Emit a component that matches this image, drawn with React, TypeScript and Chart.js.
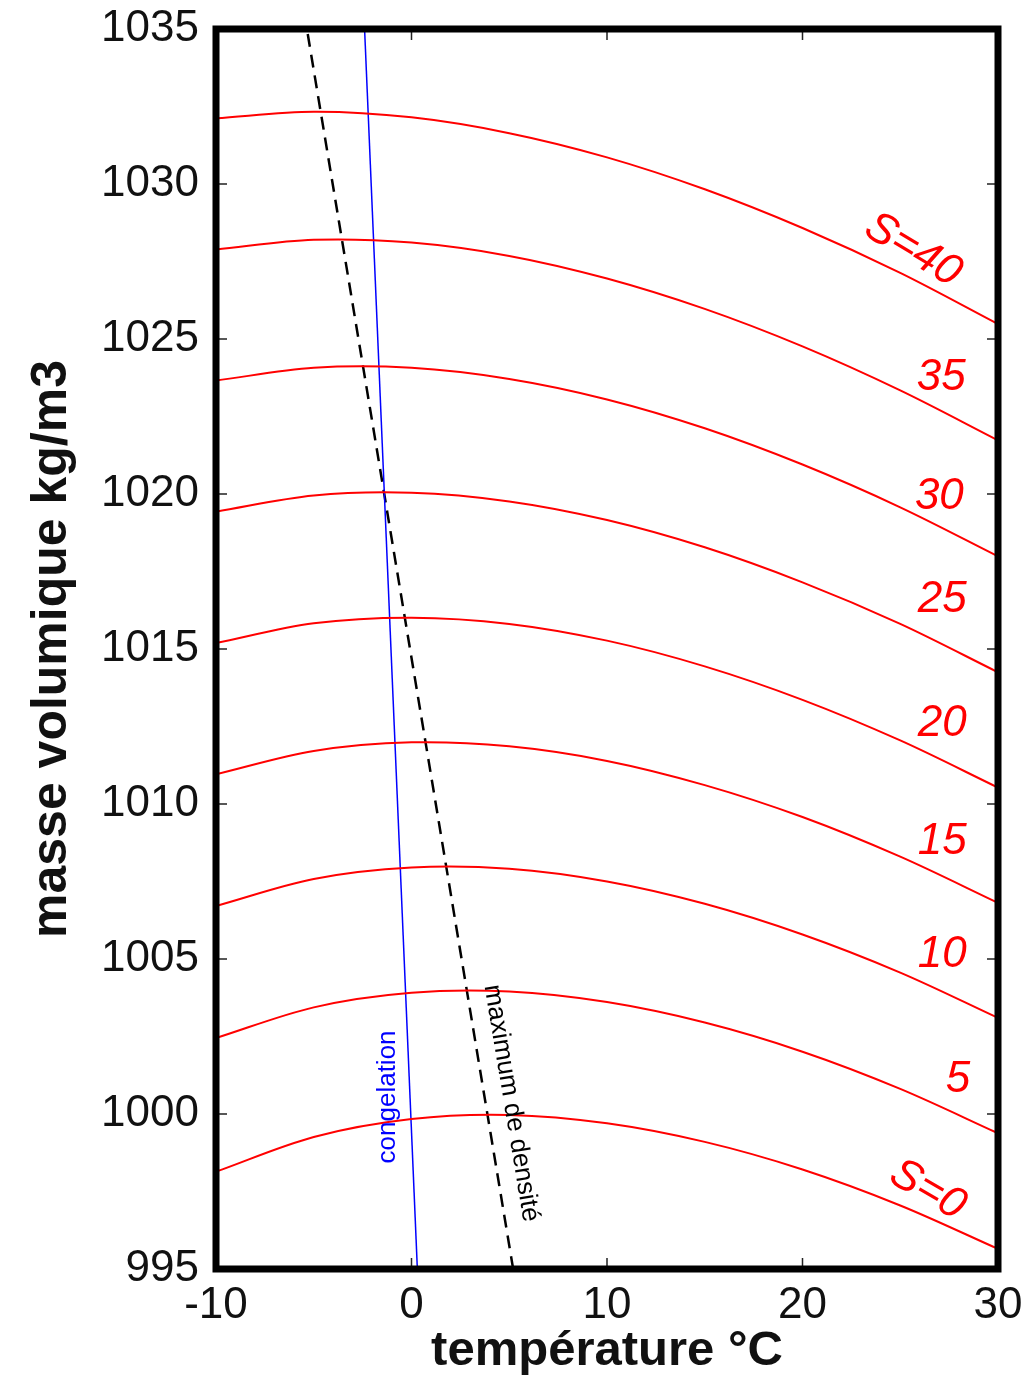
import React, { useEffect, useRef } from 'react';
import { Chart, registerables } from 'chart.js';

Chart.register(...registerables);

const FONT = '"Liberation Sans", Arial, Helvetica, sans-serif';

// Temperature (°C) sampling of the density curves
const temperatures = [-10, -5, 0, 5, 10, 15, 20, 25, 30];

// Density (kg/m3) for each salinity
const rhoS0 = [998.14, 999.26, 999.84, 999.97, 999.7, 999.1, 998.21, 997.05, 995.65];
const rhoS5 = [1002.45, 1003.44, 1003.91, 1003.95, 1003.61, 1002.95, 1002.01, 1000.81, 999.38];
const rhoS10 = [1006.71, 1007.58, 1007.95, 1007.91, 1007.5, 1006.78, 1005.79, 1004.56, 1003.1];
const rhoS15 = [1010.96, 1011.71, 1011.99, 1011.86, 1011.39, 1010.61, 1009.58, 1008.3, 1006.81];
const rhoS20 = [1015.19, 1015.83, 1016.01, 1015.81, 1015.27, 1014.44, 1013.36, 1012.05, 1010.53];
const rhoS25 = [1019.43, 1019.95, 1020.04, 1019.76, 1019.16, 1018.28, 1017.15, 1015.81, 1014.25];
const rhoS30 = [1023.66, 1024.07, 1024.07, 1023.71, 1023.05, 1022.12, 1020.95, 1019.57, 1017.99];
const rhoS35 = [1027.89, 1028.2, 1028.11, 1027.68, 1026.95, 1025.97, 1024.76, 1023.34, 1021.73];
const rhoS40 = [1032.12, 1032.33, 1032.15, 1031.64, 1030.86, 1029.83, 1028.58, 1027.13, 1025.48];

// Freezing line (congelation) end points
const congelationT = [0.3, -2.4];
const congelationRho = [995, 1035];

// Maximum density line end points
const maxDensiteT = [5.2, -5.35];
const maxDensiteRho = [995, 1035];

// Curve labels and where they sit (data coordinates)
const curveLabels = ['S=0', '5', '10', '15', '20', '25', '30', '35', 'S=40'];
const curveLabelT = [26.4, 27.95, 27.15, 27.15, 27.15, 27.15, 27.0, 27.1, 25.65];
const curveLabelRho = [997.55, 1001.1, 1005.13, 1008.77, 1012.58, 1016.58, 1019.9, 1023.74, 1027.87];
const curveLabelAngle = [30, 0, 0, 0, 0, 0, 0, 0, 31];

// Axis ticks
const xTicks = [-10, 0, 10, 20, 30];
const yTicks = [995, 1000, 1005, 1010, 1015, 1020, 1025, 1030, 1035];

export default function App() {
  const canvasRef = useRef<HTMLCanvasElement | null>(null);

  useEffect(() => {
    const canvas = canvasRef.current;
    if (!canvas) return;

    const seriesList = [rhoS0, rhoS5, rhoS10, rhoS15, rhoS20, rhoS25, rhoS30, rhoS35, rhoS40];
    const datasets: any[] = seriesList.map((values, k) => ({
      label: curveLabels[k],
      data: temperatures.map((t, i) => ({ x: t, y: values[i] })),
      borderColor: '#ff0000',
      borderWidth: 2,
      pointRadius: 0,
      tension: 0.33,
      fill: false,
    }));
    datasets.push({
      label: 'congelation',
      data: congelationT.map((t, i) => ({ x: t, y: congelationRho[i] })),
      borderColor: '#0000ff',
      borderWidth: 1.5,
      pointRadius: 0,
      tension: 0,
      fill: false,
    });
    datasets.push({
      label: 'maximum de densité',
      data: maxDensiteT.map((t, i) => ({ x: t, y: maxDensiteRho[i] })),
      borderColor: '#000000',
      borderWidth: 2.5,
      borderDash: [13, 8],
      pointRadius: 0,
      tension: 0,
      fill: false,
    });

    const framePlugin = {
      id: 'frameAndLabels',
      afterDatasetsDraw(chart: any) {
        const { ctx, scales } = chart;
        const xs = scales.x;
        const ys = scales.y;
        ctx.save();
        // curve labels
        ctx.fillStyle = '#ff0000';
        ctx.font = `italic 44px ${FONT}`;
        ctx.textAlign = 'center';
        ctx.textBaseline = 'middle';
        curveLabels.forEach((lab, i) => {
          const px = xs.getPixelForValue(curveLabelT[i]);
          const py = ys.getPixelForValue(curveLabelRho[i]);
          ctx.save();
          ctx.translate(px, py);
          ctx.rotate((curveLabelAngle[i] * Math.PI) / 180);
          ctx.fillText(lab, 0, 0);
          ctx.restore();
        });
        // congelation label
        ctx.save();
        ctx.fillStyle = '#0000ff';
        ctx.font = `26px ${FONT}`;
        ctx.translate(xs.getPixelForValue(-1.2), ys.getPixelForValue(1000.55));
        ctx.rotate(-Math.PI / 2);
        ctx.fillText('congelation', 0, 0);
        ctx.restore();
        // maximum de densité label
        ctx.save();
        ctx.fillStyle = '#000000';
        ctx.font = `26px ${FONT}`;
        ctx.translate(xs.getPixelForValue(5.1), ys.getPixelForValue(1000.35));
        ctx.rotate((80.6 * Math.PI) / 180);
        ctx.fillText('maximum de densité', 0, 0);
        ctx.restore();
        ctx.restore();
      },
      afterDraw(chart: any) {
        const { ctx, chartArea, scales } = chart;
        const xs = scales.x;
        const ys = scales.y;
        const { left, right, top, bottom } = chartArea;
        ctx.save();
        ctx.strokeStyle = '#222222';
        ctx.lineWidth = 1.5;
        const tl = 11;
        xTicks.forEach((v) => {
          const px = xs.getPixelForValue(v);
          ctx.beginPath();
          ctx.moveTo(px, bottom);
          ctx.lineTo(px, bottom - tl);
          ctx.moveTo(px, top);
          ctx.lineTo(px, top + tl);
          ctx.stroke();
        });
        yTicks.forEach((v) => {
          const py = ys.getPixelForValue(v);
          ctx.beginPath();
          ctx.moveTo(left, py);
          ctx.lineTo(left + tl, py);
          ctx.moveTo(right, py);
          ctx.lineTo(right - tl, py);
          ctx.stroke();
        });
        ctx.strokeStyle = '#000000';
        ctx.lineWidth = 7;
        ctx.strokeRect(left, top, right - left, bottom - top);
        ctx.restore();
      },
    };

    const chart = new Chart(canvas, {
      type: 'line',
      data: { datasets },
      options: {
        animation: false,
        responsive: false,
        maintainAspectRatio: false,
        devicePixelRatio: 1,
        layout: { padding: { left: 0, right: 33, top: 29, bottom: 0 } },
        plugins: {
          legend: { display: false },
          tooltip: { enabled: false },
        },
        scales: {
          x: {
            type: 'linear',
            min: -10,
            max: 30,
            afterBuildTicks: (s: any) => {
              s.ticks = xTicks.map((v) => ({ value: v }));
            },
            afterFit: (s: any) => {
              s.height = 107;
              s.paddingLeft = 0;
              s.paddingRight = 0;
            },
            grid: { display: false, drawTicks: false },
            border: { display: false },
            ticks: {
              color: '#111111',
              font: { family: FONT, size: 44 },
              padding: 10,
              maxRotation: 0,
              autoSkip: false,
              callback: (v: any) => String(v),
            },
            title: {
              display: true,
              text: 'température °C',
              color: '#111111',
              font: { family: FONT, size: 49, weight: 'bold' },
              padding: { top: 0, bottom: -5 },
            },
          },
          y: {
            type: 'linear',
            min: 995,
            max: 1035,
            afterBuildTicks: (s: any) => {
              s.ticks = yTicks.map((v) => ({ value: v }));
            },
            afterFit: (s: any) => {
              s.width = 216;
              s.paddingTop = 0;
              s.paddingBottom = 0;
            },
            grid: { display: false, drawTicks: false },
            border: { display: false },
            ticks: {
              color: '#111111',
              font: { family: FONT, size: 44 },
              padding: 17,
              autoSkip: false,
              callback: (v: any) => String(v),
            },
            title: {
              display: true,
              text: 'masse volumique kg/m3',
              color: '#111111',
              font: { family: FONT, size: 50, weight: 'bold' },
              padding: { top: 22, bottom: 0 },
            },
          },
        },
      },
      plugins: [framePlugin],
    });

    return () => {
      chart.destroy();
    };
  }, []);

  return (
    <div style={{ position: 'absolute', left: 0, top: 0, width: 1031, height: 1376, background: '#ffffff' }}>
      <canvas ref={canvasRef} width={1031} height={1376} style={{ display: 'block', width: 1031, height: 1376 }} />
    </div>
  );
}
